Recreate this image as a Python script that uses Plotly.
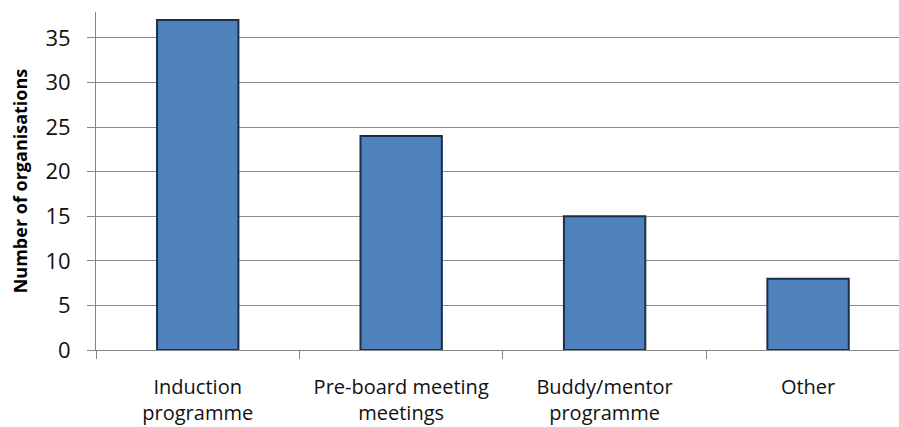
import plotly.graph_objects as go

categories = ["Induction<br>programme", "Pre-board meeting<br>meetings", "Buddy/mentor<br>programme", "Other"]
values = [37, 24, 15, 8]
y_ticks = [0, 5, 10, 15, 20, 25, 30, 35]

fig = go.Figure(go.Bar(
    x=categories, y=values, width=0.4,
    marker=dict(color="#4F81BD", line=dict(color="#1B2F4B", width=2)),
))

fig.update_layout(
    width=899, height=427,
    margin=dict(l=96, r=0, t=12, b=77),
    paper_bgcolor="white", plot_bgcolor="white",
    font=dict(family="Open Sans, Liberation Sans, sans-serif", color="#000000"),
    showlegend=False,
)
fig.update_xaxes(
    type="category", range=[-0.5, 3.447],
    showline=True, linecolor="#868686", linewidth=1,
    ticks="outside", tickson="boundaries", ticklen=8, tickcolor="#868686",
    tickfont=dict(size=20, color="#111111"),
    ticklabelstandoff=19,
    showgrid=False,
)
fig.update_yaxes(
    range=[0, 37.9], tickvals=y_ticks,
    showline=True, linecolor="#868686", linewidth=1,
    ticks="outside", ticklen=8, tickcolor="#868686",
    tickfont=dict(size=22, color="#111111"),
    ticklabelstandoff=12,
    showgrid=True, gridcolor="#8C8C8C", gridwidth=1,
    zeroline=False,
    title=dict(text="<b>Number of organisations</b>", font=dict(size=18, color="#000000"), standoff=13),
)

fig.write_html(
    "out.html",
    config={"displayModeBar": False},
    post_script="document.body.style.margin='0';document.body.style.overflow='hidden';",
)
